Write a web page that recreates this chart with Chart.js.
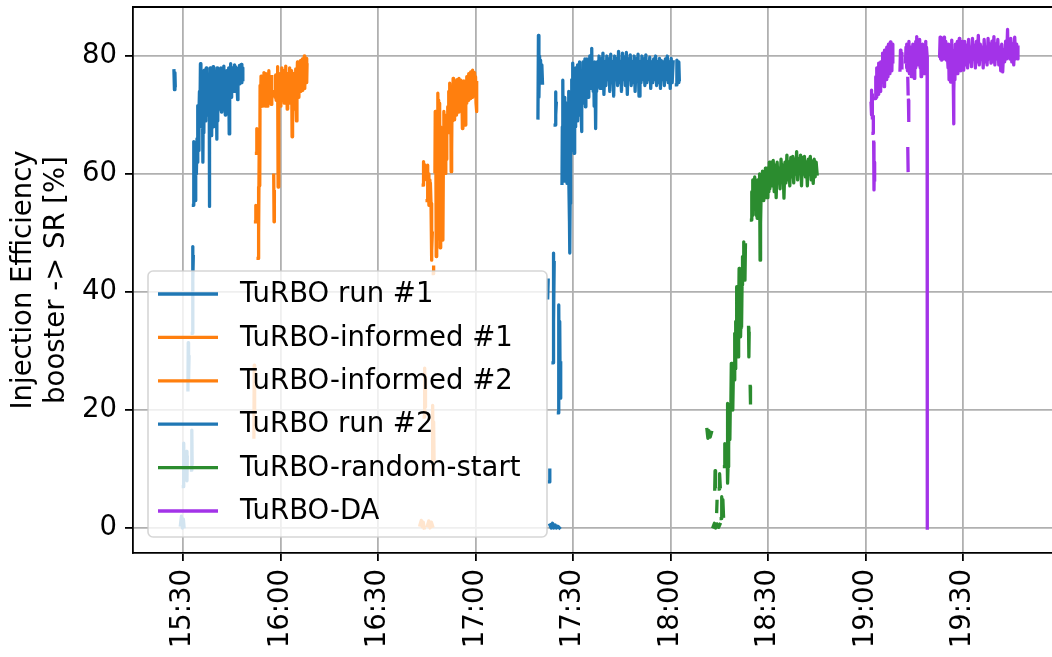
<!DOCTYPE html>
<html>
<head>
<meta charset="utf-8">
<script src="https://cdn.jsdelivr.net/npm/chart.js@4/dist/chart.umd.min.js"></script>
<style>
  html, body { margin: 0; padding: 0; background: #fff; overflow: hidden; }
  canvas { display: block; }
</style>
</head>
<body>
<canvas id="effChart" width="1062" height="657"></canvas>
<script>
// time in minutes after 15:00, efficiency in %; null breaks the line
const run1 = [
  [27.2,77.5],[27.35,74.3],[27.5,77.2],[27.6,75], null,
  [29.2,0.5],[29.5,2],[29.8,0],[30.1,1.5],[30.3,0.2], null,
  [30.1,7],[30.2,14.4],[30.35,8.5],[31.1,13],[31.2,8],[31.3,12], null,
  [31.5,23.4],[31.6,31.4],[31.7,25],[31.85,29], null,
  [32.6,9.8],[32.7,16.6],[32.8,11], null,
  [32.85,33],[32.95,47.7],[33.05,42],[33.15,46], null,
  [33.2,54.7],[33.3,65.5],[33.45,57],[33.6,63],[33.75,55.5],[33.9,64],[34.1,60],[34.3,66],[34.45,62],
  [34.6,71.6],[34.75,64],[34.9,70.5],[35.05,74],[35.2,70],[35.35,78.7],[35.5,72],[35.65,77.5],[35.8,68],
  [35.95,76],[36.1,62],[36.25,73],[36.4,67],[36.55,77.6],[36.7,71],[36.85,76.5],[37.0,69],[37.15,78],
  [37.3,73],[37.45,77],[37.6,70],[37.75,75],[37.9,71],[38.05,74],[38.1,54.5],[38.2,68],[38.35,78],[38.5,70],
  [38.65,77.5],[38.8,66.5],[38.95,76],[39.1,71],[39.25,78.2],[39.4,68],[39.55,77],[39.7,69],[39.85,76],
  [40.0,70],[40.15,77.5],[40.4,65.9],[40.45,78],[40.6,69],[40.75,76.5],[40.9,72],[41.05,77.8],[41.2,71],
  [41.35,76],[41.5,73],[41.65,78],[41.8,70.5],[41.95,77],[42.1,72],[42.25,76.5],[42.4,74],[42.55,78.3],
  [42.7,71],[42.85,77],[43.0,70],[43.15,76],[43.3,73],[43.45,77.5],[43.6,72],[43.75,76],[43.9,72],
  [44.05,78],[44.2,66.8],[44.35,77],[44.5,75],[44.65,78.7],[44.8,73],[44.95,77.5],[45.1,74.5],[45.25,78],
  [45.4,74],[45.55,77],[45.7,74],[45.85,78.5],[46.0,75.3],[46.15,78.2],[46.3,75.5],[46.45,77.8],[46.6,76],
  [46.8,72.6],[46.9,75.5],[47.05,78],[47.2,76],[47.35,78.4],[47.5,75.3],[47.65,77.8],[47.8,76],[47.95,78.6],
  [48.1,75.5],[48.25,78],[48.4,76]
];

const informed1 = [
  [51.8,15.4],[51.9,27.6],[52.0,20],[52.05,26], null,
  [52.3,51.9],[52.4,54.7],[52.5,52.5], null,
  [52.6,63.5],[52.7,67.7],[52.8,64.5], null,
  [53.1,45.7],[53.2,57.8],[53.3,50],[53.45,66],[53.6,58],[53.7,75],[53.85,71.4],[54.0,76.6],[54.15,72],
  [54.3,74.5],[54.45,71.5],[54.6,76],[54.75,73],[54.9,77.2],[55.05,72],[55.2,75.5],[55.35,71.5],[55.5,77],
  [55.65,73],[55.8,76],[55.95,71.5],[56.1,75.8],[56.25,72.5],[56.4,77.5],[56.55,73],[56.7,76.2],[56.85,72],
  [57.0,75],[57.15,71.8],[57.3,76.5], null,
  [57.9,59.8],[58.0,51.9],[58.1,57], null,
  [58.2,74],[58.35,73],[58.5,76.8],[58.65,72.5],[58.8,75.5],[58.95,73],[59.1,78.2],[59.25,57.8],[59.4,64],
  [59.5,74],[59.65,72],[59.8,77],[59.95,71.5],[60.1,76.5],[60.25,73],[60.4,78],[60.55,72.5],[60.7,76],
  [60.85,73.5],[61.0,77.5],[61.15,72],[61.3,76],[61.45,73],[61.6,78.3],[61.75,72.5],[61.9,76.5],[62.05,71],
  [62.2,77],[62.35,72.5],[62.5,75.5],[62.65,73],[62.8,78],[62.95,72],[63.1,76],[63.25,73.5],[63.4,77.5],
  [63.55,66.3],[63.7,75],[63.85,72.5],[64.0,77],[64.15,73],[64.3,76.5],[64.45,71],[64.6,77.8],[64.75,73.5],
  [64.9,69],[65.05,76],[65.2,79],[65.35,74],[65.5,77.5],[65.65,73],[65.8,78.5],[65.95,74.5],[66.1,79.2],
  [66.25,74],[66.4,78],[66.55,75],[66.7,79.5],[66.85,74.2],[67.0,78.8],[67.15,75],[67.3,80],[67.45,74.5],
  [67.6,79],[67.75,76],[67.9,79.6],[68.05,75.5],[68.15,78.5]
];

const informed2 = [
  [102.9,0.5],[103.3,1.3],[103.6,0.2],[103.9,1],[104.2,0], null,
  [104.2,18.8],[104.35,27.1],[104.5,20.5],[104.6,25.5], null,
  [103.9,58.1],[104.0,62.1],[104.15,59],[104.3,61.5], null,
  [105.2,0.4],[105.6,1.2],[106.0,0],[106.4,1],[106.8,0.3], null,
  [105.1,55.5],[105.2,61.5],[105.35,56],[105.5,60],[105.65,54.7],[105.8,59],[105.95,55],[106.1,58.5],
  [106.3,55],[106.4,45.4],[106.5,52],[106.6,47],[106.7,50], null,
  [106.7,9.8],[106.8,20.8],[106.95,12],[107.1,18],[107.25,11], null,
  [107.0,43.1],[107.1,44.2], null,
  [107.5,60.4],[107.6,70.6],[107.7,65.2],[107.8,69.5],[107.9,46],[108.0,55],[108.1,66],[108.25,60],
  [108.4,73.7],[108.5,67],[108.6,72.5],[108.7,49],[108.8,58],[108.9,66.3],[109.0,72],[109.1,47.5],
  [109.2,56],[109.35,68],[109.5,60],[109.65,51],[109.8,58.5],[109.95,48.8],[110.1,62],[110.25,70.6],
  [110.4,63],[110.55,69],[110.7,60.1],[110.85,68.5],[111.0,62.5],[111.15,70],[111.3,68],[111.45,71.4],
  [111.6,68.5],[111.75,74],[111.9,67],[112.05,75.4],[112.2,69],[112.35,73.5],[112.5,60.4],[112.65,64],
  [112.8,74.5],[112.95,69],[113.1,76.2],[113.25,71],[113.4,75],[113.55,69.2],[113.7,75.8],[113.85,71.5],
  [114.0,74.5],[114.15,70],[114.3,76],[114.45,72],[114.6,75],[114.75,70.5],[114.9,76.2],[115.05,72],
  [115.2,75.5],[115.35,71],[115.5,75.9],[115.65,72.5],[115.8,74],[115.95,67.7],[116.1,74.5],[116.25,71],
  [116.4,75.8],[116.55,72],[116.7,74.5],[116.85,68.3],[117.0,75],[117.15,72],[117.3,76.5],[117.45,73],
  [117.6,75.5],[117.75,72.5],[117.9,77],[118.05,73.5],[118.2,76],[118.35,72.8],[118.5,77.3],[118.65,74],
  [118.8,76.5],[118.95,73],[119.1,77.6],[119.25,74],[119.4,76.8],[119.55,73.5],[119.7,77.2],[119.85,74.5],
  [120.0,76.5],[120.15,72],[120.3,70.6],[120.4,75.5]
];

const run2 = [
  [139.2,69.5],[139.35,83.5],[139.5,73],[139.7,80],[139.85,75.4],[140.0,79.3],[140.2,76],[140.4,78.5],[140.6,75.4], null,
  [142.2,39],[142.35,42], null,
  [142.75,7.8],[142.85,9.8], null,
  [142.9,0.5],[143.3,0],[143.7,0.8],[144.1,0],[144.5,0.5],[144.9,0],[145.3,0.3],[145.8,0], null,
  [143.85,28],[143.95,46.6],[144.05,35],[144.2,45], null,
  [144.5,68.3],[144.6,73.9],[144.75,70],[144.85,72], null,
  [145.5,19.5],[145.6,37.8],[145.75,24],[145.9,35],[146.05,22],[146.2,28], null,
  [146.6,58.4],[146.7,68],[146.8,60],[146.9,75.9],[147.0,62],[147.1,70],[147.2,59],[147.3,66],[147.4,58.8],
  [147.5,73],[147.6,61],[147.7,68],[147.8,60],[147.9,72],[148.0,63],[148.15,58.4],[148.3,69],[148.45,62],
  [148.6,74],[148.75,60],[148.9,52],[149.0,46.6],[149.1,55],[149.2,61],[149.3,72],[149.45,64],[149.6,76],
  [149.75,66],[149.9,78.8],[150.05,67],[150.2,76],[150.35,63.5],[150.5,75],[150.65,68],[150.8,78],[150.95,70],
  [151.1,77.5],[151.25,69],[151.4,78.5],[151.55,72],[151.7,77],[151.85,70],[152.0,79],[152.15,73],[152.3,77.5],
  [152.45,71],[152.6,67.2],[152.75,76],[152.9,72],[153.05,79],[153.2,74],[153.35,78],[153.5,72],[153.65,79.5],
  [153.8,71.4],[153.95,78],[154.1,74],[154.25,79.5],[154.4,75],[154.55,78.5],[154.7,73],[154.85,79],[155.0,75],
  [155.15,80],[155.3,74.5],[155.45,78.5],[155.6,76],[155.75,81.3],[155.9,75],[156.05,79],[156.2,74],[156.35,78.5],
  [156.5,71.5],[156.65,79],[156.8,75],[156.95,67.7],[157.1,77],[157.25,74],
  [157.4,79],[157.7,75],[158.0,80],[158.3,74.5],[158.6,79.5],[158.9,75.5],[159.2,80.5],[159.5,73.5],[159.8,79],
  [160.1,75],[160.4,80],[160.7,76],[161.0,79.5],[161.3,74],[161.6,80.3],[161.9,75.5],[162.2,79],[162.5,73.2],
  [162.8,80],[163.1,76],[163.4,79.5],[163.7,75],[164.0,80.8],[164.3,75.5],[164.6,79],[164.9,74],[165.2,80.5],
  [165.5,76],[165.8,79.8],[166.1,75],[166.4,80.6],[166.7,73.5],[167.0,79.5],[167.3,76],[167.6,80.2],[167.9,75],
  [168.2,79],[168.5,75.5],[168.8,80],[169.1,74],[169.4,79.5],[169.7,76],[170.0,80.3],[170.3,73.2],[170.6,79],
  [170.9,75.5],[171.2,80],[171.5,76],[171.8,79.5],[172.1,75],[172.4,80.2],[172.7,75.5],[173.0,79],[173.3,76],
  [173.6,79.8],[173.9,74.5],[174.2,79],[174.5,75.5],[174.8,79.5],[175.1,76],[175.4,80],[175.7,75],[176.0,79],
  [176.3,75.5],[176.6,79.6],[176.9,74.5],[177.2,79.2],[177.5,76],[177.8,79],[178.1,75],[178.4,79.5],[178.7,76],
  [179.0,80],[179.3,75.5],[179.6,79],[179.9,74.5],[180.2,79.6],[180.5,75.5],[180.8,79], null,
  [181.8,75.1],[181.95,79.3],[182.1,76],[182.25,78.5],[182.4,75.5],[182.55,79],[182.7,76]
];

const randomStart = [
  [191.2,16.7],[191.5,15.2],[191.8,16.5],[192.2,15.4],[192.6,16.2], null,
  [193.1,0.2],[193.5,0.8],[193.9,0],[194.3,0.7],[194.8,0.1],[195.2,0.6], null,
  [193.6,6.6],[193.7,9.7],[193.85,7], null,
  [194.2,2.8],[194.3,4.5], null,
  [195.0,6.6],[195.1,9.2],[195.3,7], null,
  [195.6,1.6],[195.75,5.3],[195.9,2.5],[196.1,4.8],[196.3,2], null,
  [196.6,10.4],[196.7,14.3],[196.85,11],[197.0,13.5],[197.2,10.8], null,
  [197.4,13.8],[197.5,21.1],[197.6,7.6],[197.7,10.4],[197.8,18],[197.95,14],[198.1,20],[198.25,15],[198.4,21],
  [198.55,20],[198.7,27.9],[198.85,22],[199.0,26],[199.15,20],[199.3,25],[199.45,28],[199.6,25.1],[199.75,33],
  [199.9,27],[200.05,35],[200.2,30],[200.35,40.9],[200.5,32],[200.65,38],[200.8,29],[200.95,36],[201.1,44],
  [201.25,40.9],[201.4,38.6],[201.55,32.4],[201.7,37],[201.85,34],[202.0,41.2],[202.15,46],[202.3,42],
  [202.45,48.5],[202.6,43],[202.75,47],[202.9,42],[203.05,48], null,
  [204.0,34],[204.1,29],[204.2,33], null,
  [204.5,24],[204.6,21.2], null,
  [204.9,52.2],[205.0,57],[205.15,53],[205.3,59],[205.45,55],[205.6,58],[205.75,54],[205.9,59.5],[206.05,56],
  [206.2,58.5],[206.35,53],[206.5,57],[206.65,52.5],[206.8,59],[206.95,55],[207.1,58],[207.25,56],[207.4,60],
  [207.55,45.4],[207.7,51.6],[207.85,56],[208.0,59.5],[208.15,57],[208.3,60.5],[208.45,56.5],[208.6,59],
  [208.75,55.5],[208.9,60],[209.05,57],[209.2,61],[209.35,56],[209.5,60.5],[209.65,57.5],[209.8,61],
  [209.95,56],[210.1,60],[210.25,57],[210.4,62],[210.55,57.5],[210.7,60.5],[210.85,58],[211.0,62],
  [211.3,58],[211.6,62.3],[211.9,57],[212.2,61.5],[212.5,56],[212.8,62],[213.1,58.5],[213.4,61],[213.7,57.5],
  [214.0,62.5],[214.3,59],[214.6,61.5],[214.9,55.9],[215.2,62],[215.5,58.5],[215.8,63.2],[216.1,59],[216.4,62],
  [216.7,58],[217.0,62.8],[217.3,59.5],[217.6,63],[217.9,58.5],[218.2,62.5],[218.5,60],[218.8,63.8],[219.1,59],
  [219.4,62.5],[219.7,60.5],[220.0,63.2],[220.3,58],[220.6,62.8],[220.9,60],[221.2,63],[221.5,59.5],[221.8,62],
  [222.1,58],[222.4,62.5],[222.7,60],[223.0,63],[223.3,59],[223.6,62.2],[223.9,58.4],[224.2,62.5],[224.5,59.5],
  [224.8,62],[225.1,60]
];

const turboDA = [
  [241.7,72],[241.8,74.2],[241.9,70],[242.0,73.5],[242.1,69.5], null,
  [242.3,66.9],[242.4,69.7], null,
  [242.5,65.4],[242.6,57.3],[242.7,62],[242.8,59], null,
  [243.0,72.8],[243.15,76.5],[243.3,73],[243.45,78],[243.6,74],[243.75,77],[243.9,73.5],[244.05,78.8],[244.2,75],
  [244.35,77.5],[244.5,74],[244.65,79],[244.8,75.5],[244.95,78.5],[245.1,76],[245.25,80.5],[245.4,76.5],[245.55,79.5],
  [245.7,74.8],[245.85,81],[246.0,77],[246.15,80],[246.3,76],[246.45,81.5],[246.6,77.5],[246.75,80.5],[246.9,76.5],
  [247.05,82],[247.2,78],[247.35,81],[247.5,77],[247.65,82.4],[247.8,78.5],[247.95,81.5],[248.1,77.5],[248.25,82],
  [248.4,79], null,
  [250.6,77.6],[250.75,81],[250.9,78],[251.05,80.5],[251.2,78], null,
  [253.0,76.2],[253.1,73.6], null,
  [253.2,72.5],[253.3,69.1], null,
  [253.0,64.3],[253.1,60.6], null,
  [252.3,79],[252.45,81.5],[252.6,78],[252.75,82],[252.9,77.5],[253.05,81],[253.2,78.5],[253.35,82.5],[253.5,77],
  [253.65,80.5],[253.8,78],[253.95,81.5],[254.1,76.5],[254.25,80],[254.4,77.5],[254.55,82],[254.7,78],[254.85,81],
  [255.0,76.2],[255.15,80.5],[255.3,78],[255.45,82.5],[255.6,79],[255.75,83.3],[255.9,79.5],[256.05,82],[256.2,78.5],
  [256.35,81.5],[256.5,79],[256.65,82.8],[256.8,78],[256.95,81],[257.1,76.5],[257.25,80.5],[257.4,78],[257.55,82],
  [257.7,78.5],[257.85,81.5],[258.0,77],[258.15,81],[258.3,78.5],[258.45,82.5],[258.6,79],[258.75,81.5],[258.95,80],
  [259.0,0], null,
  [262.8,80],[262.95,83.2],[263.1,79.5],[263.25,82.5],[263.4,79.3],[263.55,83],[263.7,80],[263.85,82],[264.0,79.5],
  [264.15,83.2],[264.3,80.5],[264.45,82.5],[264.6,79.5],[264.75,81.5],[264.9,79.3],[265.05,82],[265.2,80],[265.4,78],
  [265.55,82],[265.7,76],[265.85,81],[266.0,77],[266.15,75.6],[266.3,80],[266.45,76.5],[266.6,82.7],[266.75,77],
  [266.9,81],[267.0,75.3],[267.1,68.5],[267.2,74],[267.35,79],[267.5,76],[267.65,82],[267.8,77.5],[267.95,81.5],
  [268.1,78],[268.25,82.5],[268.4,77],[268.55,81],[268.7,78],[268.85,83],[269.0,78.5],[269.15,82],[269.3,77.5],
  [269.45,81.5],[269.6,78],[269.75,82.5],[269.9,78.5],[270.05,81],[270.2,77.6],
  [270.5,82.5],[270.8,78.5],[271.1,81.8],[271.4,78],[271.7,82.8],[272.0,79],[272.3,81.5],[272.6,78.2],[272.9,83],
  [273.2,79.5],[273.5,81.8],[273.8,78],[274.1,82.5],[274.4,79],[274.7,83.5],[275.0,78.5],[275.3,82],[275.6,79.5],
  [275.9,81.5],[276.2,78],[276.5,82.8],[276.8,79],[277.1,81.5],[277.4,78.5],[277.7,83],[278.0,79.5],[278.3,82],
  [278.6,78.8],[278.9,82.5],[279.2,79],[279.5,83.3],[279.8,78.5],[280.1,82],[280.4,79.5],[280.7,82.8],[281.0,78.5],
  [281.3,81.5],[281.6,77.5],[281.9,82],[282.2,77.3],[282.5,81],[282.8,79],[283.1,82.5],[283.4,79.5],[283.7,84.5],
  [283.85,80],[284.1,82.8],[284.4,79.5],[284.7,83],[285.0,79],[285.3,82],[285.6,78.5],[285.9,83.2],[286.2,79.5],
  [286.5,82],[286.8,79.5],[286.9,81.5]
];

const seriesNames = ["TuRBO run #1", "TuRBO-informed #1", "TuRBO-informed #2",
                     "TuRBO run #2", "TuRBO-random-start", "TuRBO-DA"];
const seriesColors = ["#1f77b4", "#ff7f0e", "#ff7f0e", "#1f77b4", "#2b8c2f", "#a333e8"];
const seriesData = [run1, informed1, informed2, run2, randomStart, turboDA];

const xTickValues = [30, 60, 90, 120, 150, 180, 210, 240, 270];
const xTickLabels = ["15:30", "16:00", "16:30", "17:00", "17:30", "18:00", "18:30", "19:00", "19:30"];
const yTickValues = [0, 20, 40, 60, 80];

const FONT = "DejaVu Sans";
const FONT_SIZE = 27.5;
const LINE_W = 3.3;

Chart.defaults.font.family = FONT;
Chart.defaults.color = "#000";

// null entries become gaps
function toPoints(pairs) {
    let lastX = 0;
    return pairs.map(p => {
        if (p === null) return { x: lastX, y: null };
        lastX = p[0];
        return { x: p[0], y: p[1] };
    });
}

// top spine, matplotlib style box
const frameTop = {
    id: "frameTop",
    afterDatasetsDraw(chart) {
        const { ctx, chartArea } = chart;
        ctx.save();
        ctx.strokeStyle = "#000";
        ctx.lineWidth = 1.8;
        ctx.beginPath();
        ctx.moveTo(chartArea.left, chartArea.top);
        ctx.lineTo(chartArea.right, chartArea.top);
        ctx.stroke();
        ctx.restore();
    }
};

// legend box in the lower left corner of the axes, semi transparent
const cornerLegend = {
    id: "cornerLegend",
    afterDraw(chart) {
        const { ctx, chartArea } = chart;
        const w = 399, h = 266, r = 5;
        const x0 = chartArea.left + 15;
        const y0 = chartArea.bottom - 16 - h;
        ctx.save();
        ctx.beginPath();
        ctx.moveTo(x0 + r, y0);
        ctx.lineTo(x0 + w - r, y0);
        ctx.arcTo(x0 + w, y0, x0 + w, y0 + r, r);
        ctx.lineTo(x0 + w, y0 + h - r);
        ctx.arcTo(x0 + w, y0 + h, x0 + w - r, y0 + h, r);
        ctx.lineTo(x0 + r, y0 + h);
        ctx.arcTo(x0, y0 + h, x0, y0 + h - r, r);
        ctx.lineTo(x0, y0 + r);
        ctx.arcTo(x0, y0, x0 + r, y0, r);
        ctx.closePath();
        ctx.fillStyle = "rgba(255,255,255,0.8)";
        ctx.fill();
        ctx.strokeStyle = "rgba(204,204,204,0.8)";
        ctx.lineWidth = 1.6;
        ctx.stroke();

        ctx.font = FONT_SIZE + "px '" + FONT + "'";
        ctx.textBaseline = "middle";
        ctx.textAlign = "left";
        chart.data.datasets.forEach((ds, i) => {
            const yy = y0 + 23 + i * 43.4;
            ctx.strokeStyle = ds.borderColor;
            ctx.lineWidth = LINE_W;
            ctx.beginPath();
            ctx.moveTo(x0 + 10, yy);
            ctx.lineTo(x0 + 70, yy);
            ctx.stroke();
            ctx.fillStyle = "#000";
            ctx.fillText(ds.label, x0 + 92, yy + 1);
        });
        ctx.restore();
    }
};

const datasets = seriesData.map((pairs, i) => ({
    label: seriesNames[i],
    data: toPoints(pairs),
    borderColor: seriesColors[i],
    backgroundColor: seriesColors[i],
    borderWidth: LINE_W,
    borderJoinStyle: "round",
    borderCapStyle: "square",
    pointRadius: 0,
    fill: false,
    spanGaps: false,
    tension: 0,
    order: seriesData.length - i
}));

new Chart(document.getElementById("effChart"), {
    type: "line",
    data: { datasets: datasets },
    options: {
        responsive: false,
        animation: false,
        parsing: true,
        layout: { padding: { top: 7, left: 0, right: 0, bottom: 0 } },
        plugins: { legend: { display: false }, tooltip: { enabled: false } },
        scales: {
            x: {
                type: "linear",
                min: 14.6,
                max: 300.45,
                afterBuildTicks: scale => { scale.ticks = xTickValues.map(v => ({ value: v })); },
                afterFit: scale => {
                    scale.height = 104;
                    scale.paddingLeft = 0;
                    scale.paddingRight = 0;
                },
                ticks: {
                    autoSkip: false,
                    minRotation: 90,
                    maxRotation: 90,
                    padding: 8,
                    font: { size: FONT_SIZE },
                    color: "#000",
                    callback: (value, index) => xTickLabels[index]
                },
                grid: { color: "#b0b0b0", lineWidth: 1.8, tickLength: 8, tickColor: "#000", tickWidth: 1.8 },
                border: { color: "#000", width: 1.8 }
            },
            y: {
                type: "linear",
                min: -4.24,
                max: 88.31,
                afterBuildTicks: scale => { scale.ticks = yTickValues.map(v => ({ value: v })); },
                afterFit: scale => {
                    scale.width = 133;
                    scale.paddingTop = 0;
                    scale.paddingBottom = 0;
                },
                ticks: {
                    padding: 8,
                    font: { size: FONT_SIZE },
                    color: "#000",
                    callback: value => String(value)
                },
                grid: { color: "#b0b0b0", lineWidth: 1.8, tickLength: 8, tickColor: "#000", tickWidth: 1.8 },
                border: { color: "#000", width: 1.8 },
                title: {
                    display: true,
                    text: ["Injection Efficiency", "booster -> SR [%]"],
                    font: { size: FONT_SIZE, lineHeight: 1.2 },
                    color: "#000",
                    padding: { top: 7, bottom: 0 }
                }
            }
        }
    },
    plugins: [frameTop, cornerLegend]
});
</script>
</body>
</html>
